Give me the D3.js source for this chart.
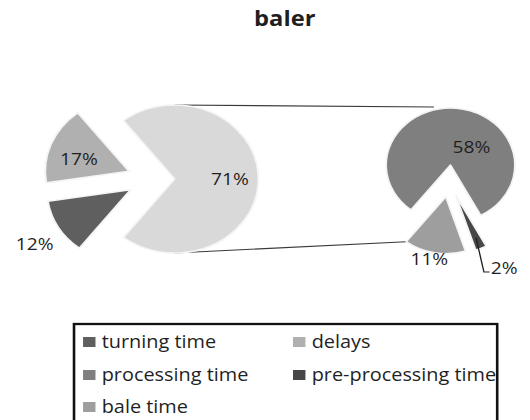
<!DOCTYPE html>
<html>
<head>
<meta charset="utf-8">
<script src="https://cdn.jsdelivr.net/npm/d3@7"></script>
<style>
  html, body { margin: 0; padding: 0; background: #fff; }
  svg { display: block; }
  text { font-family: "Open Sans", "Noto Sans", sans-serif; fill: #1f1f1f; }
</style>
</head>
<body>
<svg id="chart" width="530" height="420"></svg>
<script>
// ---- data ----
const title = "baler";
const mainCategories = ["turning time", "delays"];
const mainValues = [12, 17];
const subCategories = ["processing time", "pre-processing time", "bale time"];
const subValues = [58, 2, 11];
const legendOrder = ["turning time", "delays", "processing time", "pre-processing time", "bale time"];

// ---- styling / layout ----
const W = 530, H = 420;
const SX = 1.13;                       // horizontal stretch of the whole drawing
const colors = {
  "turning time": "#5f5f5f",
  "delays": "#b0b0b0",
  "processing time": "#7f7f7f",
  "pre-processing time": "#474747",
  "bale time": "#9e9e9e",
  "other": "#d9d9d9"
};

const total = d3.sum(mainValues) + d3.sum(subValues);
const otherValue = d3.sum(subValues);
const pct = v => d3.format(".0%")(v / total);

const svg = d3.select("#chart");
svg.append("rect").attr("width", W).attr("height", H).attr("fill", "#fff");
const g = svg.append("g").attr("transform", `scale(${SX},1)`);

// title
g.append("text")
  .attr("x", 252).attr("y", 26)
  .attr("text-anchor", "middle")
  .style("font-weight", "bold").style("font-size", "21px")
  .text(title);

// geometry of both pies (unscaled space)
const P1 = { cx: 133.6, cy: 179, r: 74, e: 21 };
const P2 = { cx: 397.3, cy: 181, r: 57, e: 16 };
const rad = a => a * Math.PI / 180;
const polar = (a, d) => [Math.sin(a) * d, -Math.cos(a) * d];

// main pie: "other" slice centred on the right, then the listed categories
const mainData = [{ key: "other", value: otherValue }]
  .concat(mainCategories.map((c, i) => ({ key: c, value: mainValues[i] })));
const otherSpan = otherValue / total * 2 * Math.PI;
const mainPie = d3.pie().sort(null).value(d => d.value)
  .startAngle(Math.PI / 2 - otherSpan / 2)
  .endAngle(Math.PI / 2 - otherSpan / 2 + 2 * Math.PI);
const mainArcs = mainPie(mainData);

// secondary pie: first slice centred near the top
const subData = subCategories.map((c, i) => ({ key: c, value: subValues[i] }));
const firstSpan = subValues[0] / otherValue * 2 * Math.PI;
const rot = rad(5);
const subPie = d3.pie().sort(null).value(d => d.value)
  .startAngle(rot - firstSpan / 2)
  .endAngle(rot - firstSpan / 2 + 2 * Math.PI);
const subArcs = subPie(subData);

function vertex(P, a) {
  const mid = (a.startAngle + a.endAngle) / 2;
  const [dx, dy] = polar(mid, P.e);
  return [P.cx + dx, P.cy + dy];
}

// connector lines between the "other" slice and the secondary pie
const otherArc = mainArcs[0];
const ov = vertex(P1, otherArc);
const topL = [ov[0] + polar(0, P1.r)[0], ov[1] + polar(0, P1.r)[1]];
const botL = [ov[0] + polar(Math.PI, P1.r)[0], ov[1] + polar(Math.PI, P1.r)[1]];
const firstV = vertex(P2, subArcs[0]);
const lastArc = subArcs[subArcs.length - 1];
const lastV = vertex(P2, lastArc);
const topR = [firstV[0] + polar(rad(-15), P2.r)[0], firstV[1] + polar(rad(-15), P2.r)[1] - 3];
const botR = [lastV[0] + polar(lastArc.endAngle, P2.r)[0], lastV[1] + polar(lastArc.endAngle, P2.r)[1]];
g.append("g").selectAll("line").data([[topL, topR], [botL, botR]]).join("line")
  .attr("x1", d => d[0][0]).attr("y1", d => d[0][1])
  .attr("x2", d => d[1][0]).attr("y2", d => d[1][1])
  .attr("stroke", "#3a3a3a").attr("stroke-width", 1.1);

// draw slices
function drawPie(P, arcs, keyOf) {
  const arcGen = d3.arc().innerRadius(0).outerRadius(P.r);
  g.append("g").selectAll("path").data(arcs).join("path")
    .attr("transform", d => { const v = vertex(P, d); return `translate(${v[0]},${v[1]})`; })
    .attr("d", arcGen)
    .attr("fill", d => colors[keyOf(d)])
    .attr("stroke", "#f4f4f4").attr("stroke-width", 1.6)
    .attr("stroke-linejoin", "round");
}
drawPie(P1, mainArcs, d => d.data.key);
drawPie(P2, subArcs, d => d.data.key);

// data labels: [angle offset from slice bisector (deg), distance as fraction of radius]
const mainLabelPos = { "other": [0, 0.66], "turning time": [-2, 1.36], "delays": [-6, 0.62] };
const subLabelPos = { "processing time": [41, 0.45], "bale time": [3, 1.13] };
function label(P, a, pos) {
  const v = vertex(P, a);
  const ang = (a.startAngle + a.endAngle) / 2 + rad(pos[0]);
  const [dx, dy] = polar(ang, pos[1] * P.r);
  return [v[0] + dx, v[1] + dy];
}
const labelG = g.append("g").style("font-size", "17px");
mainArcs.forEach(a => {
  const p = label(P1, a, mainLabelPos[a.data.key]);
  labelG.append("text").attr("x", p[0]).attr("y", p[1]).attr("dy", "0.35em")
    .attr("text-anchor", "middle").text(pct(a.value));
});
subArcs.forEach(a => {
  if (subLabelPos[a.data.key]) {
    const p = label(P2, a, subLabelPos[a.data.key]);
    labelG.append("text").attr("x", p[0]).attr("y", p[1]).attr("dy", "0.35em")
      .attr("text-anchor", "middle").text(pct(a.value));
  }
});
// small slice: label with leader line
const small = subArcs[1];
const sv = vertex(P2, small);
const smid = (small.startAngle + small.endAngle) / 2;
const s0 = [sv[0] + polar(smid, 0.8 * P2.r)[0], sv[1] + polar(smid, 0.8 * P2.r)[1]];
const s1 = [s0[0] + 7, 272];
const s2 = [s1[0] + 5, 272];
g.append("path")
  .attr("d", d3.line()([s0, s1, s2]))
  .attr("fill", "none").attr("stroke", "#1f1f1f").attr("stroke-width", 1.2);
labelG.append("text").attr("x", s2[0] + 1).attr("y", 268).attr("dy", "0.35em")
  .attr("text-anchor", "start").text(pct(small.value));

// legend
const legend = g.append("g");
legend.append("rect")
  .attr("x", 65.5).attr("y", 324).attr("width", 374.5).attr("height", 110)
  .attr("fill", "#fff").attr("stroke", "#111").attr("stroke-width", 2.3);
const colX = [73.5, 259.3];
const rowY = [342, 375, 407];
legendOrder.forEach((name, i) => {
  const x = colX[i % 2], y = rowY[Math.floor(i / 2)];
  legend.append("rect").attr("x", x).attr("y", y - 5).attr("width", 11).attr("height", 10)
    .attr("fill", colors[name]);
  legend.append("text").attr("x", x + 16.5).attr("y", y).attr("dy", "0.35em")
    .style("font-size", "17.6px").text(name);
});
</script>
</body>
</html>
